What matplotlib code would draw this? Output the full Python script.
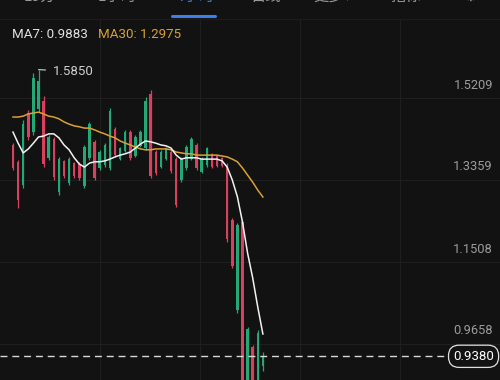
import matplotlib.pyplot as plt
import numpy as np

# candle data
opens = [1.415, 1.377, 1.325, 1.488, 1.445, 1.495, 1.515, 1.386, 1.428, 1.308,
         1.378, 1.329, 1.374, 1.373, 1.322, 1.386, 1.421, 1.362, 1.369, 1.362,
         1.451, 1.384, 1.402, 1.445, 1.391, 1.413, 1.407, 1.530, 1.400, 1.366,
         1.384, 1.400, 1.384, 1.335, 1.362, 1.384, 1.415, 1.355, 1.369, 1.394,
         1.390, 1.386, 1.370, 1.246, 1.042, 1.240, 0.870, 0.960, 0.870, 0.915]
highs = [1.419, 1.381, 1.471, 1.494, 1.577, 1.585, 1.526, 1.437, 1.433, 1.388,
         1.381, 1.388, 1.377, 1.377, 1.415, 1.467, 1.426, 1.404, 1.419, 1.498,
         1.456, 1.410, 1.449, 1.449, 1.437, 1.449, 1.523, 1.539, 1.404, 1.404,
         1.410, 1.404, 1.388, 1.388, 1.415, 1.433, 1.419, 1.388, 1.410, 1.397,
         1.392, 1.388, 1.374, 1.250, 1.239, 1.246, 1.004, 0.964, 0.997, 0.948]
lows = [1.358, 1.273, 1.318, 1.426, 1.437, 1.489, 1.365, 1.381, 1.336, 1.302,
        1.340, 1.325, 1.340, 1.336, 1.318, 1.381, 1.336, 1.358, 1.365, 1.358,
        1.388, 1.381, 1.399, 1.381, 1.388, 1.410, 1.404, 1.340, 1.347, 1.363,
        1.381, 1.352, 1.275, 1.331, 1.358, 1.381, 1.358, 1.352, 1.365, 1.363,
        1.365, 1.365, 1.196, 1.137, 1.036, 0.840, 0.850, 0.860, 0.855, 0.905]
closes = [1.362, 1.290, 1.462, 1.432, 1.565, 1.560, 1.372, 1.432, 1.342, 1.383,
          1.344, 1.384, 1.344, 1.340, 1.410, 1.462, 1.340, 1.400, 1.415, 1.492,
          1.392, 1.407, 1.445, 1.385, 1.433, 1.445, 1.515, 1.346, 1.351, 1.400,
          1.407, 1.356, 1.280, 1.384, 1.411, 1.429, 1.362, 1.384, 1.407, 1.366,
          1.368, 1.368, 1.202, 1.142, 1.234, 0.860, 1.000, 0.875, 0.990, 0.938]

ma7 = [1.444, 1.419, 1.397, 1.406, 1.419, 1.433, 1.435, 1.440, 1.440, 1.431,
       1.415, 1.404, 1.386, 1.372, 1.365, 1.374, 1.377, 1.377, 1.379, 1.383,
       1.388, 1.392, 1.395, 1.399, 1.408, 1.417, 1.424, 1.422, 1.419, 1.415,
       1.413, 1.408, 1.392, 1.383, 1.386, 1.386, 1.386, 1.383, 1.383, 1.383,
       1.383, 1.379, 1.365, 1.336, 1.298, 1.241, 1.171, 1.115, 1.049, 0.9883]
ma30 = [1.478, 1.478, 1.480, 1.485, 1.487, 1.489, 1.485, 1.480, 1.478, 1.474,
        1.467, 1.462, 1.458, 1.456, 1.453, 1.453, 1.449, 1.444, 1.440, 1.435,
        1.431, 1.424, 1.419, 1.415, 1.410, 1.406, 1.404, 1.404, 1.406, 1.406,
        1.406, 1.404, 1.399, 1.397, 1.395, 1.395, 1.392, 1.392, 1.392, 1.392,
        1.392, 1.390, 1.388, 1.383, 1.377, 1.363, 1.347, 1.331, 1.313, 1.2975]

price_ticks = [1.5209, 1.3359, 1.1508, 0.9658]
last_price = 0.9380
tabs = ['15分', '1小时', '4小时', '日线', '更多▾', '指标', '⚙']
active_tab = 2

bg = '#121212'
grid_c = '#1f1f1f'
up_c = '#23a878'
down_c = '#d8415e'

fig = plt.figure(figsize=(5, 3.8), dpi=100, facecolor=bg)
ax = fig.add_axes([0, 0, 1, 1])
ax.set_facecolor(bg)
ax.set_xlim(-2.55, 95.5)
ax.set_ylim(0.8845, 1.7421)
ax.axis('off')

# grid
for p in price_ticks:
    ax.axhline(p, color=grid_c, lw=0.8, zorder=0)
for f in [0.2, 0.4, 0.6, 0.8]:
    ax.plot([f, f], [0, 1 - 19 / 380], transform=ax.transAxes, color=grid_c, lw=0.8, zorder=0)
fig.add_artist(plt.Line2D([0, 1], [1 - 19 / 380] * 2, color='#1c1c1c', lw=0.8))

# candles
x = np.arange(len(opens))
o = np.array(opens)
c = np.array(closes)
colors = [up_c if cc >= oo else down_c for oo, cc in zip(o, c)]
ax.vlines(x, lows, highs, colors=colors, lw=0.9, zorder=2)
ax.bar(x, np.abs(c - o), bottom=np.minimum(o, c), width=0.5, color=colors, zorder=2)

# moving averages
ax.plot(x, ma30, color='#d9a232', lw=1.1, zorder=3)
ax.plot(x, ma7, color='#f2f2f2', lw=1.1, zorder=4)

# highest point marker
hi = int(np.argmax(highs))
ax.annotate('%.4f' % highs[hi], xy=(hi, highs[hi]), xytext=(14, -2), textcoords='offset pixels',
            va='center', ha='left', color='#cfcfcf', fontsize=9.5, family='Roboto',
            arrowprops=dict(arrowstyle='-', color='#cfcfcf', lw=0.8, shrinkA=3, shrinkB=0))

# price labels
for p in price_ticks:
    ax.annotate('%.4f' % p, xy=(0.986, p), xycoords=ax.get_yaxis_transform(),
                xytext=(0, 13), textcoords='offset pixels', ha='right', va='center',
                color='#9c9c9c', fontsize=9.3, family='Roboto')

# last price line + box
ax.plot([0, 0.893], [last_price, last_price], transform=ax.get_yaxis_transform(),
        color='#d8d8d8', lw=1.0, dashes=(5, 3.5), zorder=5)
ax.text(0.988, last_price, '%.4f' % last_price, transform=ax.get_yaxis_transform(),
        ha='right', va='center', color='white', fontsize=9.5, family='Roboto', zorder=6,
        bbox=dict(boxstyle='round,pad=0.35,rounding_size=0.8', fc=bg, ec='#e0e0e0', lw=0.9))

# legend
fig.text(12 / 500, 1 - 35 / 380, 'MA7: %.4f' % ma7[-1], color='#e2e2e2', fontsize=9.6,
         family='Roboto', va='center', ha='left')
fig.text(98 / 500, 1 - 35 / 380, 'MA30: %.4f' % ma30[-1], color='#d9a232', fontsize=9.6,
         family='Roboto', va='center', ha='left')

# tab bar (mostly cut off at the top)
tab_x = [40, 117, 195, 266, 332, 406, 470]
for i, (t, tx) in enumerate(zip(tabs, tab_x)):
    fig.text(tx / 500, 1 - 5 / 380, t, color='#3d7fe6' if i == active_tab else '#9a9a9a',
             fontsize=11, family=['Noto Sans CJK SC', 'DejaVu Sans'], ha='center', va='bottom')
fig.add_artist(plt.Line2D([172 / 500, 215 / 500], [1 - 15.5 / 380] * 2, color='#3d7fe6',
                          lw=2.2, solid_capstyle='round'))

fig.savefig('out.png', dpi=100, facecolor=bg)
